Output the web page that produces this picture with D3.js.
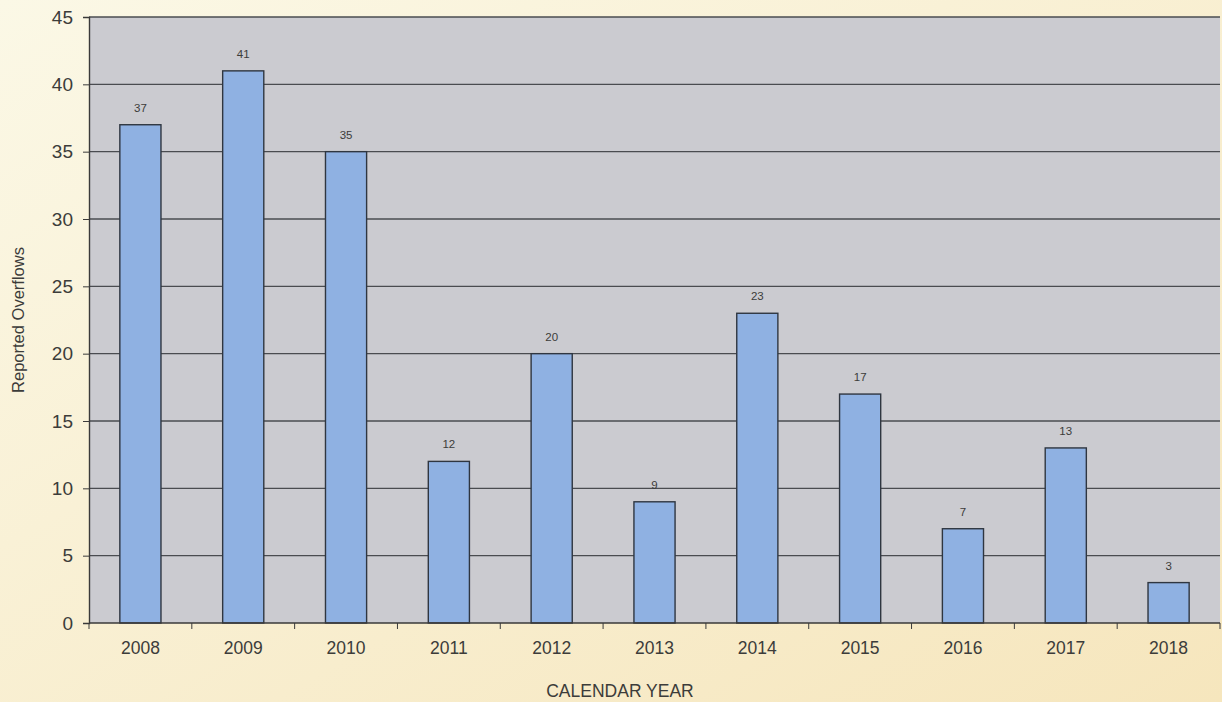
<!DOCTYPE html>
<html>
<head>
<meta charset="utf-8">
<script src="https://cdn.jsdelivr.net/npm/d3@7"></script>
<style>
  html, body { margin: 0; padding: 0; }
  body { width: 1222px; height: 702px; overflow: hidden; }
  text { font-family: "Liberation Sans", Arial, sans-serif; fill: #3c3c3a; }
</style>
</head>
<body>
<svg id="chart" width="1222" height="702"></svg>
<script>
/* data */
const years = ["2008", "2009", "2010", "2011", "2012", "2013", "2014", "2015", "2016", "2017", "2018"];
const overflows = [37, 41, 35, 12, 20, 9, 23, 17, 7, 13, 3];
const yTicks = [0, 5, 10, 15, 20, 25, 30, 35, 40, 45];

const svg = d3.select("#chart");
const width = 1222, height = 702;
const margin = { top: 17, right: 2, bottom: 79, left: 89 };
const innerW = width - margin.left - margin.right;
const innerH = height - margin.top - margin.bottom;

/* cream page background with soft gradient */
const defs = svg.append("defs");
const grad = defs.append("linearGradient").attr("id", "bg")
  .attr("x1", "0").attr("y1", "0").attr("x2", "1").attr("y2", "1");
grad.append("stop").attr("offset", "0").attr("stop-color", "#fbf8e6");
grad.append("stop").attr("offset", "1").attr("stop-color", "#f6e6bd");
svg.append("rect").attr("width", width).attr("height", height).attr("fill", "url(#bg)");

const g = svg.append("g").attr("transform", `translate(${margin.left},${margin.top})`);

const x = d3.scaleBand().domain(years).range([0, innerW]).paddingInner(0.6).paddingOuter(0.3);
const y = d3.scaleLinear().domain([0, 45]).range([innerH, 0]);

/* plot area */
g.append("rect").attr("width", innerW).attr("height", innerH).attr("fill", "#cbcbd0");

/* gridlines */
g.append("g").selectAll("line").data(yTicks.filter(d => d > 0)).join("line")
  .attr("x1", 0).attr("x2", innerW)
  .attr("y1", d => y(d)).attr("y2", d => y(d))
  .attr("stroke", "#4a4c50").attr("stroke-width", 1.3);

/* bars */
g.append("g").selectAll("rect").data(years).join("rect")
  .attr("x", d => x(d))
  .attr("y", (d, i) => y(overflows[i]))
  .attr("width", x.bandwidth())
  .attr("height", (d, i) => innerH - y(overflows[i]))
  .attr("fill", "#8fb1e2")
  .attr("stroke", "#2f3640").attr("stroke-width", 1.4);

/* value labels */
g.append("g").selectAll("text").data(years).join("text")
  .attr("x", d => x(d) + x.bandwidth() / 2)
  .attr("y", (d, i) => y(overflows[i]) - 13)
  .attr("text-anchor", "middle")
  .style("font-size", "11.5px")
  .text((d, i) => overflows[i]);

/* y axis */
const yAxis = g.append("g")
  .call(d3.axisLeft(y).tickValues(yTicks).tickSize(6).tickPadding(10));
yAxis.select(".domain").attr("stroke", "#3a3a3a").attr("stroke-width", 1.4);
yAxis.selectAll(".tick line").attr("stroke", "#3a3a3a");
yAxis.selectAll("text").style("font-size", "19px").attr("fill", "#3c3c3a");

/* x axis: tick marks sit between the categories */
const xAxis = g.append("g").attr("transform", `translate(0,${innerH})`);
xAxis.append("line").attr("x1", 0).attr("x2", innerW).attr("stroke", "#3a3a3a").attr("stroke-width", 1.4);
xAxis.selectAll("line.tk").data(d3.range(years.length + 1)).join("line")
  .attr("class", "tk")
  .attr("x1", i => i * x.step()).attr("x2", i => i * x.step())
  .attr("y1", 0).attr("y2", 6)
  .attr("stroke", "#3a3a3a");
xAxis.selectAll("text").data(years).join("text")
  .attr("x", d => x(d) + x.bandwidth() / 2)
  .attr("y", 31)
  .attr("text-anchor", "middle")
  .style("font-size", "17.5px")
  .text(d => d);

/* axis titles */
svg.append("text")
  .attr("transform", `translate(24,${margin.top + innerH / 2}) rotate(-90)`)
  .attr("text-anchor", "middle")
  .style("font-size", "16.5px")
  .text("Reported Overflows");
svg.append("text")
  .attr("x", 620).attr("y", 697)
  .attr("text-anchor", "middle")
  .style("font-size", "17.5px")
  .text("CALENDAR YEAR");
</script>
</body>
</html>
